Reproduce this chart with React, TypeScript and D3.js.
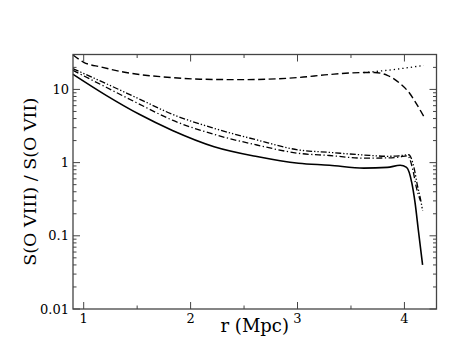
import React from "react";
import * as d3 from "d3";

const W = 471;
const H = 364;
const margin = { top: 54.5, right: 34.5, bottom: 55, left: 73 };

// x axis: r in Mpc
const xMajor = [1, 2, 3, 4];
const xMinor = [1.5, 2.5, 3.5];
// y axis: log ratio
const yMajor = [0.01, 0.1, 1, 10];
const yLabels = ["0.01", "0.1", "1", "10"];

// solid
const solidR = [0.9, 1.21, 1.52, 1.83, 2.22, 2.62, 3.01, 3.3, 3.62, 3.84, 3.96, 4.02, 4.07, 4.1, 4.13, 4.17];
const solidV = [16.1, 8.3, 4.57, 2.75, 1.65, 1.21, 0.98, 0.92, 0.84, 0.86, 0.92, 0.86, 0.52, 0.28, 0.12, 0.04];

// dashed
const dashR = [0.9, 1.0, 1.16, 1.37, 1.83, 2.09, 2.46, 3.0, 3.3, 3.62, 3.72, 3.84, 3.96, 4.05, 4.12, 4.18];
const dashV = [29.5, 23.5, 20.3, 17.3, 14.5, 13.8, 13.6, 14.5, 16, 17, 17, 15.6, 12, 8.8, 6.1, 4.3];

// dotted (only visible where it leaves the dashed one)
const dotR = [3.62, 3.8, 4.0, 4.18];
const dotV = [17, 18, 19.5, 21.3];

// dash-dot-dot (upper)
const ddotR = [0.9, 1.21, 1.52, 1.83, 2.22, 2.62, 3.01, 3.3, 3.62, 3.85, 3.95, 4.04, 4.09, 4.12, 4.15, 4.17];
const ddotV = [19.2, 12.0, 7.4, 4.57, 2.94, 2.04, 1.49, 1.38, 1.27, 1.22, 1.24, 1.28, 0.85, 0.5, 0.32, 0.22];

// dash-dot (lower)
const dashdotR = [0.9, 1.21, 1.52, 1.83, 2.22, 2.62, 3.01, 3.3, 3.62, 3.85, 3.95, 4.03, 4.08, 4.11, 4.15];
const dashdotV = [18.2, 10.7, 6.3, 3.8, 2.43, 1.74, 1.34, 1.25, 1.15, 1.16, 1.19, 1.24, 0.78, 0.47, 0.3];

const series = [
  { r: dashR, v: dashV, dash: "7,3.5", w: 1.4 },
  { r: dotR, v: dotV, dash: "1.3,3", w: 1.3 },
  { r: ddotR, v: ddotV, dash: "6,2,1.3,2,1.3,2", w: 1.3 },
  { r: dashdotR, v: dashdotV, dash: "6,2.5,1.3,2.5", w: 1.3 },
  { r: solidR, v: solidV, dash: null, w: 1.6 },
];

const serif = "DejaVu Serif, serif";

const App = () => {
  const x = d3.scaleLinear().domain([0.9, 4.3]).range([margin.left, W - margin.right]);
  const y = d3.scaleLog().domain([0.01, 30]).range([H - margin.bottom, margin.top]);

  const left = x.range()[0];
  const right = x.range()[1];
  const top = y.range()[1];
  const bottom = y.range()[0];

  const yMinor: number[] = [];
  [0.01, 0.1, 1, 10].forEach((d) => {
    for (let k = 2; k <= 9; k++) {
      if (d * k <= 30) yMinor.push(d * k);
    }
  });

  const axisColor = "#444";

  return (
    <svg
      width={W}
      height={H}
      fontFamily={serif}
      style={{ position: "absolute", left: 0, top: 0, background: "white" }}
    >
      {series.map((s, i) => {
        const pts = s.r.map((r, j) => [r, s.v[j]] as [number, number]);
        const line = d3
          .line<[number, number]>()
          .x((d) => x(d[0]))
          .y((d) => y(d[1]))
          .curve(d3.curveMonotoneX);
        return (
          <path
            key={i}
            d={line(pts) || ""}
            fill="none"
            stroke="black"
            strokeWidth={s.w}
            strokeDasharray={s.dash || undefined}
          />
        );
      })}

      {/* frame */}
      <rect x={left} y={top} width={right - left} height={bottom - top} fill="none" stroke={axisColor} strokeWidth={1.3} />

      {/* x ticks, inward, bottom and top */}
      {xMajor.map((d) => (
        <g key={"xm" + d}>
          <line x1={x(d)} x2={x(d)} y1={bottom} y2={bottom - 7} stroke={axisColor} strokeWidth={1} />
          <line x1={x(d)} x2={x(d)} y1={top} y2={top + 7} stroke={axisColor} strokeWidth={1} />
          <text x={x(d)} y={bottom + 14} textAnchor="middle" fontSize={13} fill="black">
            {d}
          </text>
        </g>
      ))}
      {xMinor.map((d) => (
        <g key={"xn" + d}>
          <line x1={x(d)} x2={x(d)} y1={bottom} y2={bottom - 3.5} stroke={axisColor} strokeWidth={1} />
          <line x1={x(d)} x2={x(d)} y1={top} y2={top + 3.5} stroke={axisColor} strokeWidth={1} />
        </g>
      ))}

      {/* y ticks, inward, left and right */}
      {yMajor.map((d, i) => (
        <g key={"ym" + d}>
          <line x1={left} x2={left + 7} y1={y(d)} y2={y(d)} stroke={axisColor} strokeWidth={1} />
          <line x1={right} x2={right - 7} y1={y(d)} y2={y(d)} stroke={axisColor} strokeWidth={1} />
          <text x={left - 4} y={y(d)} dy="0.35em" textAnchor="end" fontSize={13} fill="black">
            {yLabels[i]}
          </text>
        </g>
      ))}
      {yMinor.map((d) => (
        <g key={"yn" + d}>
          <line x1={left} x2={left + 3.5} y1={y(d)} y2={y(d)} stroke={axisColor} strokeWidth={1} />
          <line x1={right} x2={right - 3.5} y1={y(d)} y2={y(d)} stroke={axisColor} strokeWidth={1} />
        </g>
      ))}

      {/* axis titles */}
      <text x={(left + right) / 2} y={332} textAnchor="middle" fontSize={18} fill="black">
        r (Mpc)
      </text>
      <text
        transform={`translate(36, ${(top + bottom) / 2}) rotate(-90)`}
        textAnchor="middle"
        fontSize={17.5}
        fill="black"
      >
        S(O VIII) / S(O VII)
      </text>
    </svg>
  );
};

export default App;
